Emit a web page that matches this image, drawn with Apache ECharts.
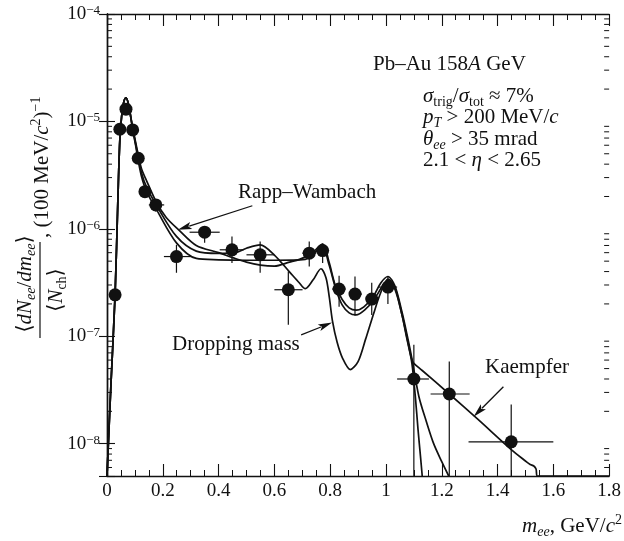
<!DOCTYPE html>
<html><head><meta charset="utf-8">
<script src="https://cdn.jsdelivr.net/npm/echarts@6/dist/echarts.min.js"></script>
<style>html,body{margin:0;padding:0;background:#fff}#c{width:624px;height:541px}</style>
</head><body><div id="c"></div>
<script>
// ---------------- data ----------------
const rwX = [0,0.014,0.029,0.039,0.046,0.054,0.061,0.068,0.075,0.082,0.092,0.102,0.112,0.124,0.142,0.178,0.213,0.255,0.32,0.4,0.45,0.5,0.55,0.6,0.654,0.69,0.73,0.773,0.796,0.818,0.843,0.868,0.893,0.921,0.954,0.982,1.007,1.032,1.057,1.075,1.093,1.118,1.145,1.171,1.2,1.225];
const rwY = [5e-9,3.5e-8,2.43e-7,1.86e-6,6.7e-6,1.23e-5,1.55e-5,1.66e-5,1.52e-5,1.23e-5,8.8e-6,6.5e-6,4.9e-6,3.6e-6,2.8e-6,1.75e-6,1.27e-6,9.9e-7,7.0e-7,6.0e-7,5.4e-7,4.9e-7,4.6e-7,4.5e-7,4.9e-7,5.2e-7,5.8e-7,7.2e-7,4.9e-7,3.0e-7,2.2e-7,1.84e-7,1.75e-7,1.88e-7,2.33e-7,3.15e-7,3.6e-7,2.95e-7,1.7e-7,1.05e-7,6.2e-8,2.75e-8,1.6e-8,1.0e-8,6.8e-9,5e-9];

const dmX = [0,0.014,0.029,0.039,0.046,0.054,0.061,0.068,0.075,0.082,0.092,0.102,0.112,0.124,0.142,0.178,0.249,0.32,0.4,0.46,0.5,0.549,0.6,0.654,0.689,0.711,0.739,0.767,0.785,0.797,0.808,0.825,0.845,0.872,0.9,0.927,0.955,0.98,1.007,1.032,1.057,1.075,1.093,1.105,1.115,1.124,1.13];
const dmY = [5e-9,3.5e-8,2.43e-7,1.86e-6,6.7e-6,1.23e-5,1.55e-5,1.66e-5,1.52e-5,1.23e-5,8.6e-6,6.3e-6,4.6e-6,3.3e-6,2.44e-6,1.64e-6,8.5e-7,6.2e-7,5.9e-7,6.0e-7,6.6e-7,7.1e-7,5.7e-7,3.98e-7,3.15e-7,2.77e-7,3.35e-7,4.25e-7,3.5e-7,2.3e-7,1.4e-7,8.8e-8,6.2e-8,4.9e-8,5.8e-8,9.4e-8,1.6e-7,2.5e-7,3.4e-7,2.85e-7,1.6e-7,9.8e-8,5.6e-8,2.8e-8,1.35e-8,7.5e-9,5e-9];

const kaX = [0,0.014,0.029,0.039,0.046,0.054,0.061,0.068,0.075,0.082,0.092,0.102,0.112,0.124,0.142,0.178,0.249,0.32,0.4,0.5,0.6,0.711,0.74,0.773,0.796,0.821,0.843,0.868,0.893,0.925,0.957,0.986,1.007,1.032,1.057,1.075,1.093,1.1,1.13,1.227,1.33,1.449,1.5,1.517,1.53,1.538,1.543,1.8];
const kaY = [5e-9,3.5e-8,2.43e-7,1.86e-6,6.7e-6,1.23e-5,1.55e-5,1.66e-5,1.52e-5,1.23e-5,8.4e-6,6.1e-6,4.3e-6,3.05e-6,2.22e-6,1.5e-6,7.4e-7,5.3e-7,5.15e-7,5.1e-7,5.1e-7,5.2e-7,5.9e-7,6.7e-7,4.62e-7,2.71e-7,1.96e-7,1.65e-7,1.58e-7,1.77e-7,2.19e-7,2.89e-7,3.3e-7,2.75e-7,1.6e-7,9.5e-8,6e-8,5.6e-8,4.8e-8,2.9e-8,1.68e-8,8.8e-9,6.9e-9,6.4e-9,6.2e-9,5.8e-9,5e-9,5e-9];

// measured points with error bars
const ptX   = [0.029,0.046,0.068,0.092,0.112,0.136,0.175,0.249,0.35,0.448,0.549,0.65,0.725,0.773,0.832,0.889,0.949,1.007,1.1,1.227,1.449];
const ptY   = [2.43e-7,8.45e-6,1.30e-5,8.33e-6,4.54e-6,2.22e-6,1.67e-6,5.52e-7,9.3e-7,6.38e-7,5.73e-7,2.71e-7,5.94e-7,6.28e-7,2.75e-7,2.47e-7,2.22e-7,2.87e-7,4.0e-8,2.9e-8,1.04e-8];
const ptXLo = [0.029,0.046,0.068,0.092,0.112,0.136,0.15,0.204,0.296,0.404,0.5,0.6,0.70,0.75,0.807,0.868,0.927,0.975,1.04,1.16,1.296];
const ptXHi = [0.029,0.046,0.068,0.092,0.112,0.136,0.205,0.302,0.404,0.49,0.6,0.701,0.75,0.796,0.856,0.914,0.97,1.04,1.154,1.30,1.6];
const ptYLo = [2.43e-7,8.45e-6,1.30e-5,8.33e-6,4.54e-6,2.22e-6,1.45e-6,3.9e-7,7.41e-7,4.8e-7,3.9e-7,1.28e-7,4.46e-7,4.8e-7,1.88e-7,1.55e-7,1.58e-7,2.0e-7,1e-9,1e-9,1e-9];
const ptYHi = [2.43e-7,8.45e-6,1.30e-5,8.33e-6,4.54e-6,2.22e-6,1.86e-6,7.1e-7,1.05e-6,8.48e-7,7.62e-7,4.01e-7,7.62e-7,7.3e-7,3.66e-7,3.6e-7,3.15e-7,3.6e-7,8.34e-8,5.83e-8,2.31e-8];

// annotation arrows [fromX, fromY, toX, toY]
const arrowRW = [0.521, 1.64e-6, 0.254, 9.8e-7];
const arrowDM = [0.696, 1.03e-7, 0.807, 1.34e-7];
const arrowKA = [1.421, 3.39e-8, 1.314, 1.78e-8];

// axes
const X_MIN = 0, X_MAX = 1.8, X_STEP = 0.2;
const Y_MIN = 5e-9, Y_MAX = 1e-4;
const minorMantissas = [2,3,4,5,6,7,8,9];
const minorDecades = [1e-9,1e-8,1e-7,1e-6,1e-5];

// ---------------- chart ----------------
const FONT = "'Liberation Serif','DejaVu Serif',serif";
const INK = '#111';
const pairs = (xs, ys) => xs.map((x, i) => [x, ys[i]]);
const minorTicks = [];
minorDecades.forEach(d => minorMantissas.forEach(m => { const v = m * d; if (v > Y_MIN && v < Y_MAX) minorTicks.push([0, v]); }));

function base(extra) {
  return Object.assign({fontFamily: FONT, fontSize: 21, fill: INK, color: INK, lineHeight: 26, verticalAlign: 'middle'}, extra || {});
}
const RICH = {
  r: base(),
  i: base({fontStyle: 'italic'}),
  sb: base({fontSize: 14, lineHeight: 14, verticalAlign: 'bottom'}),
  si: base({fontSize: 14, lineHeight: 14, verticalAlign: 'bottom', fontStyle: 'italic'}),
  sp: base({fontSize: 14, lineHeight: 14, verticalAlign: 'top'})
};
function txt(x, y, text, align) {
  return {type: 'text', x: x, y: y, silent: true,
    style: {text: text, rich: RICH, align: align || 'left', verticalAlign: 'middle', fontFamily: FONT, fontSize: 21, fill: INK}};
}

const supLabelRich = {
  b: {fontFamily: FONT, fontSize: 19, color: INK, lineHeight: 20, verticalAlign: 'middle'},
  s: {fontFamily: FONT, fontSize: 13, color: INK, lineHeight: 13, verticalAlign: 'top'}
};

function renderErr(params, api) {
  const x = api.value(0), y = api.value(1);
  const xl = api.value(2), xh = api.value(3);
  const yl = Math.max(api.value(4), Y_MIN), yh = api.value(5);
  const c = api.coord([x, y]);
  const a = api.coord([xl, y]), b = api.coord([xh, y]);
  const lo = api.coord([x, yl]), hi = api.coord([x, yh]);
  const st = {stroke: INK, lineWidth: 1.2};
  return {type: 'group', children: [
    {type: 'line', shape: {x1: a[0], y1: c[1], x2: b[0], y2: c[1]}, style: st},
    {type: 'line', shape: {x1: c[0], y1: lo[1], x2: c[0], y2: hi[1]}, style: st}
  ]};
}
function renderArrow(params, api) {
  const p1 = api.coord([api.value(0), api.value(1)]);
  const p2 = api.coord([api.value(2), api.value(3)]);
  const dx = p2[0] - p1[0], dy = p2[1] - p1[1];
  const L = Math.sqrt(dx * dx + dy * dy), ux = dx / L, uy = dy / L;
  const hl = 14, hw = 3.6;
  const bx = p2[0] - ux * hl, by = p2[1] - uy * hl;
  return {type: 'group', children: [
    {type: 'line', shape: {x1: p1[0], y1: p1[1], x2: bx + ux * 2, y2: by + uy * 2}, style: {stroke: INK, lineWidth: 1.3}},
    {type: 'polygon', shape: {points: [[p2[0], p2[1]], [bx - uy * hw, by + ux * hw], [bx + ux * 3, by + uy * 3], [bx + uy * hw, by - ux * hw]]}, style: {fill: INK}}
  ]};
}
function renderMinor(params, api) {
  const p = api.coord([0, api.value(1)]);
  const l = params.coordSys.x, r = params.coordSys.x + params.coordSys.width;
  const st = {stroke: INK, lineWidth: 1};
  return {type: 'group', children: [
    {type: 'line', shape: {x1: l, y1: p[1], x2: l + 5, y2: p[1]}, style: st},
    {type: 'line', shape: {x1: r - 5, y1: p[1], x2: r, y2: p[1]}, style: st}
  ]};
}

const lineSeries = (name, xs, ys) => ({
  name: name, type: 'line', data: pairs(xs, ys), showSymbol: false, smooth: 0.3,
  lineStyle: {color: INK, width: 1.7, opacity: 1}, itemStyle: {color: INK}, z: 3, silent: true
});

const axisLineStyle = {lineStyle: {color: INK, width: 1.4}};
const option = {
  animation: false,
  backgroundColor: '#fff',
  grid: {left: 107, top: 14, width: 504, height: 462, containLabel: false},
  xAxis: [
    {type: 'value', min: X_MIN, max: X_MAX, interval: X_STEP, position: 'bottom',
     axisLine: axisLineStyle, splitLine: {show: false},
     axisTick: {inside: true, length: 12, lineStyle: {color: INK, width: 1.1}},
     minorTick: {show: true, splitNumber: 4, length: 6, lineStyle: {color: INK, width: 1}},
     axisLabel: {margin: 6, fontFamily: FONT, fontSize: 19, color: INK}},
    {type: 'value', min: X_MIN, max: X_MAX, interval: X_STEP, position: 'top',
     axisLine: axisLineStyle, splitLine: {show: false},
     axisTick: {inside: true, length: 12, lineStyle: {color: INK, width: 1.1}},
     minorTick: {show: true, splitNumber: 4, length: 6, lineStyle: {color: INK, width: 1}},
     axisLabel: {show: false}}
  ],
  yAxis: [
    {type: 'log', logBase: 10, min: Y_MIN, max: Y_MAX, position: 'left',
     axisLine: axisLineStyle, splitLine: {show: false},
     axisTick: {inside: true, length: 8, lineStyle: {color: INK, width: 1.1}},
     axisLabel: {margin: 7, rich: supLabelRich, formatter: function (v) {
        const e = Math.log10(v);
        if (Math.abs(e - Math.round(e)) > 1e-6) return '';
        return '{b|10}{s|−' + Math.abs(Math.round(e)) + '}';
     }}},
    {type: 'log', logBase: 10, min: Y_MIN, max: Y_MAX, position: 'right',
     axisLine: axisLineStyle, splitLine: {show: false},
     axisTick: {inside: true, length: 8, lineStyle: {color: INK, width: 1.1}},
     axisLabel: {show: false}}
  ],
  series: [
    lineSeries('Rapp–Wambach', rwX, rwY),
    lineSeries('Dropping mass', dmX, dmY),
    lineSeries('Kaempfer', kaX, kaY),
    {type: 'custom', name: 'errors', renderItem: renderErr, silent: true, z: 4,
     encode: {x: 0, y: 1},
     data: ptX.map((x, i) => [x, ptY[i], ptXLo[i], ptXHi[i], ptYLo[i], ptYHi[i]])},
    {type: 'scatter', name: 'data', data: pairs(ptX, ptY), symbol: 'circle', symbolSize: 13,
     itemStyle: {color: INK, opacity: 1}, z: 5, silent: true},
    {type: 'custom', name: 'arrows', renderItem: renderArrow, silent: true, z: 6,
     encode: {x: [0, 2], y: [1, 3]}, data: [arrowRW, arrowDM, arrowKA]},
    {type: 'custom', name: 'minorTicks', renderItem: renderMinor, silent: true, z: 6,
     encode: {x: 0, y: 1}, data: minorTicks, clip: false}
  ],
  graphic: [
    txt(373, 64, '{r|Pb–Au 158}{i|A}{r| GeV}'),
    txt(423, 96, '{i|σ}{sb|trig}{r|/}{i|σ}{sb|tot}{r| ≈ 7%}'),
    txt(423, 117, '{i|p}{si|T}{r| > 200 MeV/}{i|c}'),
    txt(423, 139, '{i|θ}{si|ee}{r| > 35 mrad}'),
    txt(423, 160, '{r|2.1 < }{i|η}{r| < 2.65}'),
    txt(238, 192, '{r|Rapp–Wambach}'),
    txt(172, 344, '{r|Dropping mass}'),
    txt(485, 367, '{r|Kaempfer}'),
    txt(622, 526, '{i|m}{si|ee}{r|, GeV/}{i|c}{sp|2}', 'right'),
    {type: 'group', x: 42, y: 288, rotation: Math.PI / 2, silent: true, children: [
      txt(4, -17, '{r|⟨}{i|dN}{si|ee}{r|/}{i|dm}{si|ee}{r|⟩}', 'center'),
      {type: 'line', shape: {x1: -50, y1: -2, x2: 46, y2: -2}, style: {stroke: INK, lineWidth: 1.2}},
      txt(-2, 14, '{r|⟨}{i|N}{sb|ch}{r|⟩}', 'center'),
      txt(50, 0, '{r|, (100 MeV/}{i|c}{sp|2}{r|)}{sp|−1}', 'left')
    ]}
  ]
};
const chart = echarts.init(document.getElementById('c'), null, {renderer: 'canvas'});
chart.setOption(option);
</script></body></html>
